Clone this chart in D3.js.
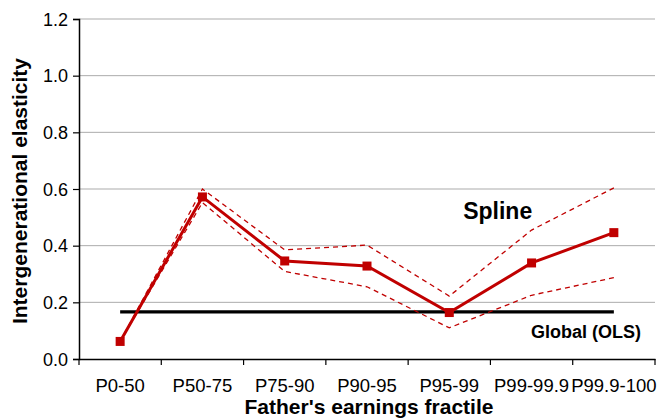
<!DOCTYPE html>
<html>
<head>
<meta charset="utf-8">
<script src="https://cdn.jsdelivr.net/npm/d3@7"></script>
<style>
  body { margin: 0; background: #fff; }
  text { font-family: "Liberation Sans", Arial, sans-serif; }
</style>
</head>
<body>
<div id="chart"></div>
<script>
// data
var fractiles = ["P0-50", "P50-75", "P75-90", "P90-95", "P95-99", "P99-99.9", "P99.9-100"];
var spline = [0.062, 0.572, 0.346, 0.328, 0.164, 0.339, 0.446];
var upper  = [0.062, 0.600, 0.385, 0.402, 0.222, 0.455, 0.604];
var lower  = [0.062, 0.552, 0.309, 0.255, 0.110, 0.225, 0.287];
var globalOLS = 0.166;
var yTicks = [0, 0.2, 0.4, 0.6, 0.8, 1.0, 1.2];

var margin = {top: 19, right: 4, bottom: 60, left: 79},
    width = 659 - margin.left - margin.right,
    height = 419 - margin.top - margin.bottom;

var red = "#c00000";

var svg = d3.select("#chart")
  .append("svg")
  .attr("width", 659)
  .attr("height", 419)
  .append("g")
  .attr("transform", "translate(" + margin.left + "," + margin.top + ")");

var x = d3.scaleBand()
  .domain(fractiles)
  .range([0, width]);

var y = d3.scaleLinear()
  .domain([0, 1.2])
  .range([height, 0]);

var cx = function(d, i) { return x(fractiles[i]) + x.bandwidth() / 2; };

// gridlines
svg.append("g")
  .selectAll("line")
  .data(yTicks.slice(1))
  .enter()
  .append("line")
    .attr("x1", 0)
    .attr("x2", width)
    .attr("y1", function(d) { return y(d); })
    .attr("y2", function(d) { return y(d); })
    .attr("stroke", "#ababab")
    .attr("stroke-width", 1);

// Y axis
var yAxis = svg.append("g")
  .call(d3.axisLeft(y).tickValues(yTicks).tickFormat(d3.format(".1f")).tickSizeOuter(0).tickSize(6));
yAxis.select(".domain").attr("stroke", "#000").attr("stroke-width", 1.5);
yAxis.selectAll(".tick line").attr("stroke", "#000").attr("stroke-width", 1.2);
yAxis.selectAll("text")
  .style("font-size", "18px")
  .attr("fill", "#000")
  .attr("x", -11)
  .attr("dy", "0.35em");

// X axis
var xAxis = svg.append("g")
  .attr("transform", "translate(0," + height + ")")
  .call(d3.axisBottom(x).tickSize(0).tickSizeOuter(0));
xAxis.select(".domain").attr("stroke", "#000").attr("stroke-width", 1.5);
xAxis.selectAll("text")
  .style("font-size", "18.5px")
  .attr("fill", "#000")
  .attr("y", 33)
  .attr("dy", 0);

// x ticks on band edges
svg.append("g")
  .selectAll("line")
  .data(fractiles.concat(["end"]))
  .enter()
  .append("line")
    .attr("x1", function(d, i) { return i * x.bandwidth(); })
    .attr("x2", function(d, i) { return i * x.bandwidth(); })
    .attr("y1", height)
    .attr("y2", height + 6)
    .attr("stroke", "#000")
    .attr("stroke-width", 1.2);

// global OLS line
svg.append("line")
  .attr("x1", x(fractiles[0]) + x.bandwidth() / 2)
  .attr("x2", x(fractiles[fractiles.length - 1]) + x.bandwidth() / 2)
  .attr("y1", y(globalOLS))
  .attr("y2", y(globalOLS))
  .attr("stroke", "#000")
  .attr("stroke-width", 3.2);

var line = d3.line()
  .x(cx)
  .y(function(d) { return y(d); });

// confidence bands
[upper, lower].forEach(function(s) {
  svg.append("path")
    .datum(s)
    .attr("d", line)
    .attr("fill", "none")
    .attr("stroke", red)
    .attr("stroke-width", 1.3)
    .style("stroke-dasharray", "5,4");
});

// spline estimate
svg.append("path")
  .datum(spline)
  .attr("d", line)
  .attr("fill", "none")
  .attr("stroke", red)
  .attr("stroke-width", 3);

svg.selectAll("rect.mk")
  .data(spline)
  .enter()
  .append("rect")
    .attr("class", "mk")
    .attr("x", function(d, i) { return cx(d, i) - 4.5; })
    .attr("y", function(d) { return y(d) - 4.5; })
    .attr("width", 9)
    .attr("height", 9)
    .attr("fill", red);

// labels
svg.append("text")
  .attr("x", 497.7 - margin.left)
  .attr("y", 219 - margin.top)
  .style("text-anchor", "middle")
  .style("font-size", "23px")
  .style("font-weight", "bold")
  .text("Spline");

svg.append("text")
  .attr("x", 586 - margin.left)
  .attr("y", 338 - margin.top)
  .style("text-anchor", "middle")
  .style("font-size", "18px")
  .style("font-weight", "bold")
  .text("Global (OLS)");

// axis titles
svg.append("text")
  .attr("x", 369 - margin.left)
  .attr("y", 414 - margin.top)
  .style("text-anchor", "middle")
  .style("font-size", "21px")
  .style("font-weight", "bold")
  .text("Father's earnings fractile");

svg.append("text")
  .attr("transform", "rotate(-90)")
  .attr("x", -(191 - margin.top))
  .attr("y", 27 - margin.left)
  .style("text-anchor", "middle")
  .style("font-size", "21px")
  .style("font-weight", "bold")
  .text("Intergenerational elasticity");
</script>
</body>
</html>
